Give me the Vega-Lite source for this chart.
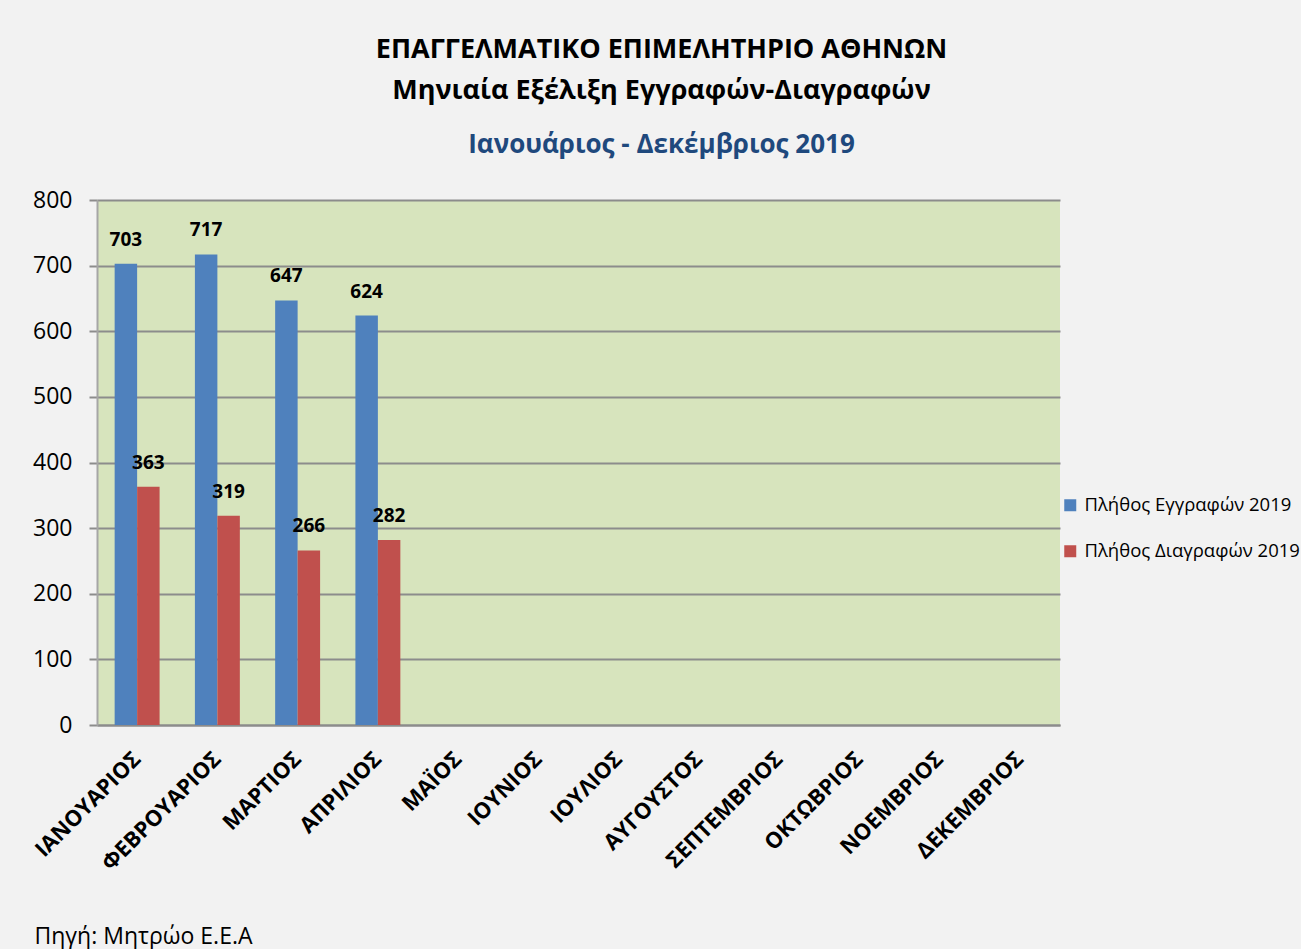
{
  "$schema": "https://vega.github.io/schema/vega-lite/v6.json",
  "autosize": {"type": "none"},
  "width": 963,
  "height": 525,
  "padding": {"left": 97, "top": 200, "right": 241, "bottom": 224},
  "background": "#f2f2f2",
  "title": {
    "text": ["ΕΠΑΓΓΕΛΜΑΤΙΚΟ ΕΠΙΜΕΛΗΤΗΡΙΟ ΑΘΗΝΩΝ", "Μηνιαία Εξέλιξη Εγγραφών-Διαγραφών"],
    "subtitle": "Ιανουάριος - Δεκέμβριος 2019",
    "anchor": "middle",
    "frame": "group",
    "dx": 83,
    "offset": 30,
    "font": "Open Sans",
    "fontSize": 27,
    "fontWeight": "bold",
    "color": "#000000",
    "lineHeight": 41,
    "subtitleFont": "Open Sans",
    "subtitleFontSize": 26,
    "subtitleFontWeight": "bold",
    "subtitleColor": "#1f497d",
    "subtitlePadding": 27
  },
  "data": {
    "values": [
      {"month": "ΙΑΝΟΥΑΡΙΟΣ", "series": "Πλήθος Εγγραφών 2019", "value": 703},
      {"month": "ΙΑΝΟΥΑΡΙΟΣ", "series": "Πλήθος Διαγραφών 2019", "value": 363},
      {"month": "ΦΕΒΡΟΥΑΡΙΟΣ", "series": "Πλήθος Εγγραφών 2019", "value": 717},
      {"month": "ΦΕΒΡΟΥΑΡΙΟΣ", "series": "Πλήθος Διαγραφών 2019", "value": 319},
      {"month": "ΜΑΡΤΙΟΣ", "series": "Πλήθος Εγγραφών 2019", "value": 647},
      {"month": "ΜΑΡΤΙΟΣ", "series": "Πλήθος Διαγραφών 2019", "value": 266},
      {"month": "ΑΠΡΙΛΙΟΣ", "series": "Πλήθος Εγγραφών 2019", "value": 624},
      {"month": "ΑΠΡΙΛΙΟΣ", "series": "Πλήθος Διαγραφών 2019", "value": 282}
    ]
  },
  "encoding": {
    "x": {
      "field": "month",
      "type": "nominal",
      "sort": null,
      "scale": {
        "domain": ["ΙΑΝΟΥΑΡΙΟΣ", "ΦΕΒΡΟΥΑΡΙΟΣ", "ΜΑΡΤΙΟΣ", "ΑΠΡΙΛΙΟΣ", "ΜΑΪΟΣ", "ΙΟΥΝΙΟΣ", "ΙΟΥΛΙΟΣ", "ΑΥΓΟΥΣΤΟΣ", "ΣΕΠΤΕΜΒΡΙΟΣ", "ΟΚΤΩΒΡΙΟΣ", "ΝΟΕΜΒΡΙΟΣ", "ΔΕΚΕΜΒΡΙΟΣ"],
        "paddingInner": 0.44,
        "paddingOuter": 0.22
      },
      "axis": {
        "title": "Πηγή: Μητρώο Ε.Ε.Α",
        "titleX": -63,
        "titleY": 218,
        "titleAlign": "left",
        "titleAnchor": "start",
        "titleBaseline": "alphabetic",
        "titleFont": "Open Sans",
        "titleFontSize": 23,
        "titleFontWeight": "normal",
        "titleColor": "#000000",
        "labelAngle": -45,
        "labelAlign": "right",
        "labelBaseline": "middle",
        "labelFont": "Open Sans",
        "labelFontSize": 22,
        "labelFontWeight": "bold",
        "labelColor": "#000000",
        "labelPadding": 30,
        "labelOffset": 0,
        "labelOverlap": false,
        "ticks": false,
        "tickSize": 0,
        "domainColor": "#8c8c8c",
        "domainWidth": 2,
        "grid": false
      }
    },
    "xOffset": {
      "field": "series",
      "type": "nominal",
      "sort": ["Πλήθος Εγγραφών 2019", "Πλήθος Διαγραφών 2019"]
    },
    "y": {
      "field": "value",
      "type": "quantitative",
      "scale": {"domain": [0, 800], "nice": false},
      "axis": {
        "title": null,
        "values": [0, 100, 200, 300, 400, 500, 600, 700, 800],
        "labelFont": "Open Sans",
        "labelFontSize": 23,
        "labelColor": "#000000",
        "labelPadding": 17,
        "tickSize": 8,
        "tickColor": "#8c8c8c",
        "tickWidth": 2,
        "domainColor": "#a6a6a6",
        "domainWidth": 2,
        "grid": true,
        "gridColor": "#8c8c8c",
        "gridWidth": 2
      }
    }
  },
  "layer": [
    {
      "mark": {"type": "bar"},
      "encoding": {
        "color": {
          "field": "series",
          "type": "nominal",
          "scale": {
            "domain": ["Πλήθος Εγγραφών 2019", "Πλήθος Διαγραφών 2019"],
            "range": ["#4f81bd", "#c0504d"]
          },
          "legend": {
            "title": null,
            "orient": "none",
            "legendX": 964,
            "legendY": 296,
            "direction": "vertical",
            "symbolType": "square",
            "symbolSize": 144,
            "symbolStrokeWidth": 0,
            "labelFont": "Open Sans",
            "labelFontSize": 18.5,
            "labelColor": "#000000",
            "labelOffset": 5,
            "rowPadding": 27,
            "padding": 0,
            "labelLimit": 400
          }
        }
      }
    },
    {
      "mark": {
        "type": "text",
        "baseline": "alphabetic",
        "align": "center",
        "dy": -18,
        "font": "Open Sans",
        "fontSize": 19,
        "fontWeight": "bold",
        "color": "#000000"
      },
      "encoding": {
        "text": {"field": "value", "type": "quantitative"}
      }
    }
  ],
  "config": {
    "view": {"fill": "#d7e4bd", "stroke": null},
    "axis": {"zindex": 0}
  }
}
